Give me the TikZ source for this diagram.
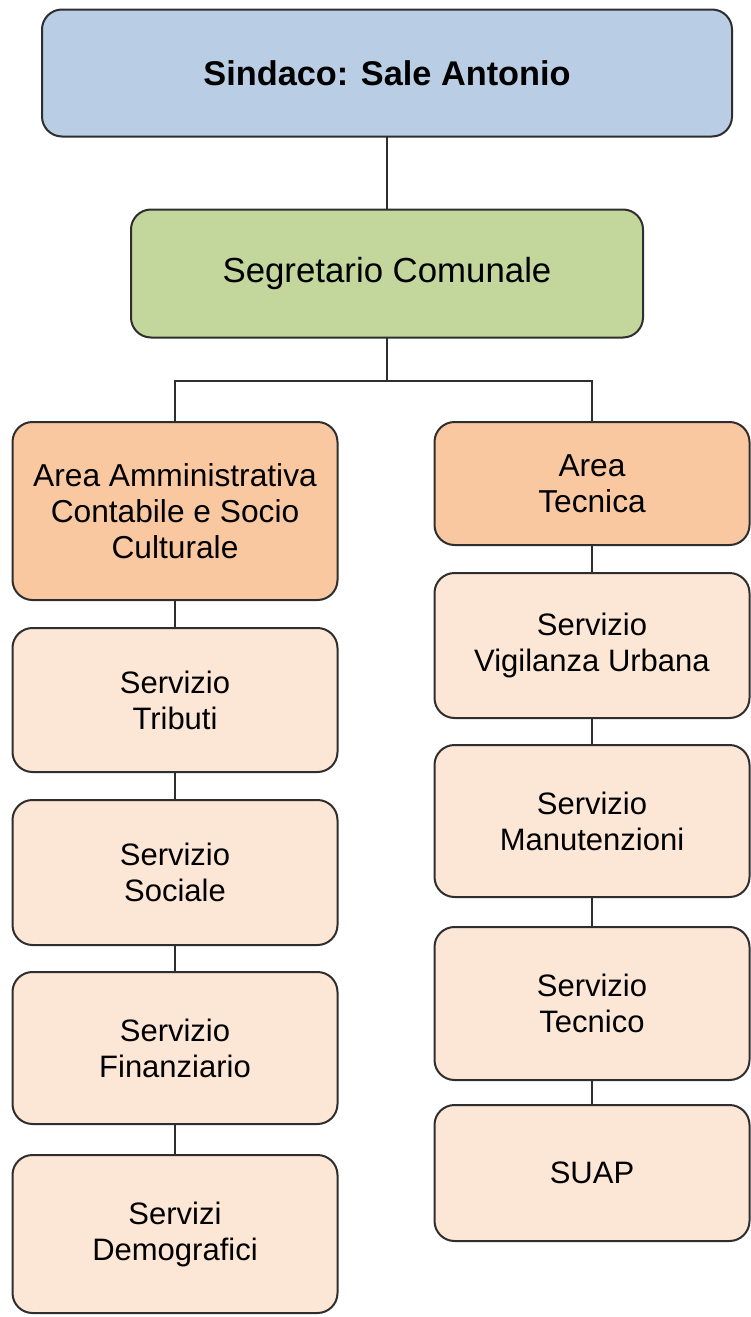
\documentclass[tikz,border=0pt]{standalone}
\usepackage{fontspec}
\setmainfont{Liberation Sans}
\usepackage{xcolor}
\usepackage{tikz}
\usetikzlibrary{positioning, calc}

\definecolor{sindacoblue}{HTML}{B9CDE5}
\definecolor{segrgreen}{HTML}{C3D69B}
\definecolor{areaorange}{HTML}{FAC8A0}
\definecolor{servpeach}{HTML}{FCE6D6}
\definecolor{bordergray}{HTML}{2E2E2E}

\begin{document}
\begin{tikzpicture}[
x=1pt, y=-1pt,
node distance=28pt,
box/.style={
draw=bordergray,
line width=2pt,
rounded corners=20pt,
align=center,
inner sep=0pt,
outer sep=0pt,
font=\fontsize{31}{36}\selectfont
},
head/.style={
box,
fill=sindacoblue,
minimum width=690pt,
minimum height=127pt,
font=\fontsize{34.3}{38}\selectfont\bfseries
},
segr/.style={
box,
fill=segrgreen,
minimum width=512pt,
minimum height=128pt,
font=\fontsize{34.8}{40}\selectfont
},
area/.style={
box,
fill=areaorange,
font=\fontsize{31.7}{36}\selectfont
},
serv/.style={
box,
fill=servpeach
},
link/.style={
draw=bordergray,
line width=2pt
}
]

\useasboundingbox (0,0) rectangle (750,1317);

% Top
\node[head] (sindaco) at (387,73) {Sindaco: Sale Antonio};

\node[segr, below=73pt of sindaco] (segretario) {Segretario Comunale};

\coordinate[below=43pt of segretario] (split);

% Left column
\node[area, minimum width=325pt, minimum height=178pt] (areaamm) at (175,511)
{Area Amministrativa\\Contabile e Socio\\Culturale};

\node[serv, minimum width=325pt, minimum height=144pt, below=28pt of areaamm]
(tributi) {Servizio\\Tributi};

\node[serv, minimum width=325pt, minimum height=145pt, below=28pt of tributi]
(sociale) {Servizio\\Sociale};

\node[serv, minimum width=325pt, minimum height=152pt, below=27pt of sociale]
(finanziario) {Servizio\\Finanziario};

\node[serv, minimum width=325pt, minimum height=158pt, below=31pt of finanziario]
(demografici) {Servizi\\Demografici};

% Right column
\node[area, minimum width=315pt, minimum height=123pt] (areatec) at (592,483.5)
{Area\\Tecnica};

\node[serv, minimum width=315pt, minimum height=145pt, below=28pt of areatec]
(vigilanza) {Servizio\\Vigilanza Urbana};

\node[serv, minimum width=315pt, minimum height=152pt, below=27pt of vigilanza]
(manutenzioni) {Servizio\\Manutenzioni};

\node[serv, minimum width=315pt, minimum height=153pt, below=30pt of manutenzioni]
(tecnico) {Servizio\\Tecnico};

\node[serv, minimum width=315pt, minimum height=136pt, below=25pt of tecnico]
(suap) {SUAP};

% Connections
\draw[link] (sindaco) -- (segretario);
\draw[link] (segretario) -- (split);
\draw[link] (split) -| (areaamm.north);
\draw[link] (split) -| (areatec.north);

\draw[link] (areaamm) -- (tributi);
\draw[link] (tributi) -- (sociale);
\draw[link] (sociale) -- (finanziario);
\draw[link] (finanziario) -- (demografici);

\draw[link] (areatec) -- (vigilanza);
\draw[link] (vigilanza) -- (manutenzioni);
\draw[link] (manutenzioni) -- (tecnico);
\draw[link] (tecnico) -- (suap);

\end{tikzpicture}
\end{document}
